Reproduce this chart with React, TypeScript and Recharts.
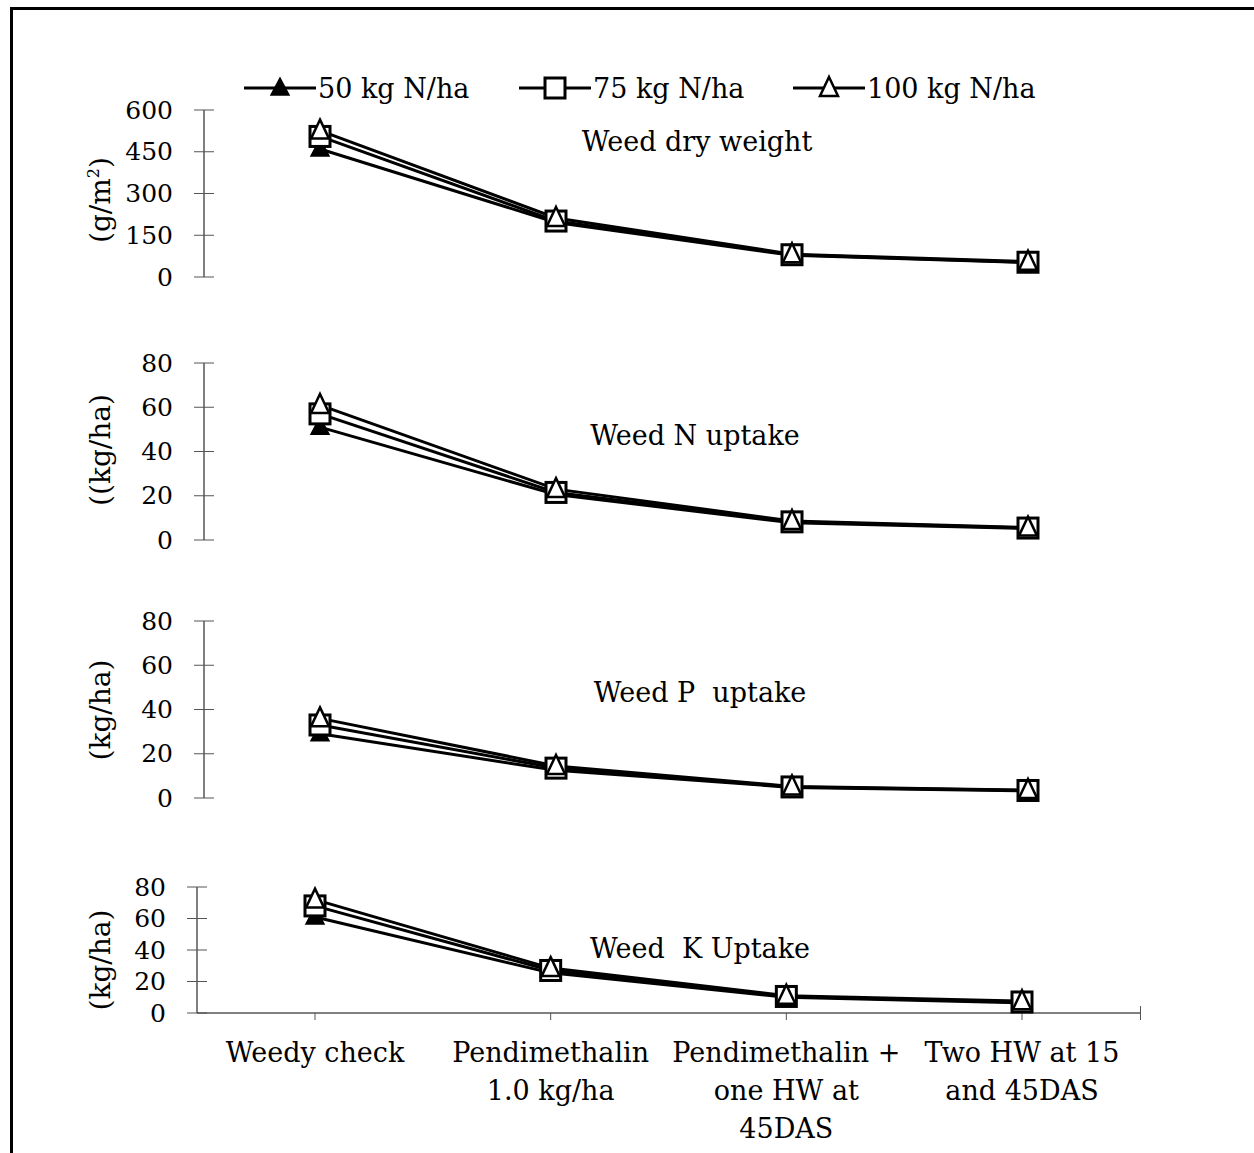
import React from 'react';
import { LineChart, Line, XAxis, YAxis } from 'recharts';

const treatments = [
  'Weedy check',
  'Pendimethalin\n1.0 kg/ha',
  'Pendimethalin +\none HW at\n45DAS',
  'Two HW at 15\nand 45DAS',
];

const dryWeight50 = [460, 196, 78, 52];
const dryWeight75 = [505, 201, 80, 53];
const dryWeight100 = [526, 212, 82, 55];

const nUptake50 = [51, 20.5, 7.8, 5.2];
const nUptake75 = [57, 21.5, 8.2, 5.4];
const nUptake100 = [61, 23, 8.6, 5.6];

const pUptake50 = [29, 12.5, 4.8, 3.2];
const pUptake75 = [33, 13.5, 5, 3.4];
const pUptake100 = [36, 14.5, 5.2, 3.6];

const kUptake50 = [61, 25.5, 10, 6.5];
const kUptake75 = [68, 27, 10.5, 7];
const kUptake100 = [72, 28.5, 11, 7.5];

const dryWeightTicks = [0, 150, 300, 450, 600];
const uptakeTicks = [0, 20, 40, 60, 80];

const FONT = '"DejaVu Serif", serif';
const FS = 25;
const M = 24;
const YW = 60;
const W = 1254;

function rows(a: number[], b: number[], c: number[]) {
  return treatments.map((name, i) => ({ name, n50: a[i], n75: b[i], n100: c[i] }));
}

const FilledTriangle = (props: any) => {
  const { cx, cy } = props;
  if (cx == null || cy == null) return null;
  return <path d={`M${cx},${cy - 10} L${cx + 9},${cy + 7} L${cx - 9},${cy + 7} Z`} fill="#000" stroke="#000" strokeWidth={1.5} />;
};

const OpenSquare = (props: any) => {
  const { cx, cy } = props;
  if (cx == null || cy == null) return null;
  return <rect x={cx - 10} y={cy - 10} width={20} height={20} fill="#fff" stroke="#000" strokeWidth={3} />;
};

const OpenTriangle = (props: any) => {
  const { cx, cy } = props;
  if (cx == null || cy == null) return null;
  return <path d={`M${cx},${cy - 11} L${cx + 9},${cy + 8} L${cx - 9},${cy + 8} Z`} fill="#fff" stroke="#000" strokeWidth={2.5} />;
};

const YTick = (props: any) => {
  const { x, y, payload } = props;
  return (
    <g>
      <line x1={x - 10} x2={x + 10} y1={y} y2={y} stroke="#555" strokeWidth={1} />
      <text x={x - 31} y={y} textAnchor="end" dominantBaseline="central" fontFamily={FONT} fontSize={FS} fill="#000">
        {payload.value}
      </text>
    </g>
  );
};

const XTick = (props: any) => {
  const { x, y, payload } = props;
  const lines = String(payload.value).split('\n');
  return (
    <g>
      {lines.map((l, i) => (
        <text key={i} x={x} y={y + 32 + i * 38} textAnchor="middle" dominantBaseline="central" fontFamily={FONT} fontSize={27} fill="#000">
          {l}
        </text>
      ))}
    </g>
  );
};

type Panel = {
  data: { name: string; n50: number; n75: number; n100: number }[];
  top: number;
  bottom: number;
  left: number;
  right: number;
  pad: number;
  max: number;
  ticks: number[];
  showX?: boolean;
};

const XH = 130;

function PanelChart({ p }: { p: Panel }) {
  const plotH = p.bottom - p.top;
  const height = plotH + M + M + (p.showX ? XH : 0);
  return (
    <div style={{ position: 'absolute', left: 0, top: p.top - M }}>
      <LineChart
        width={W}
        height={height}
        data={p.data}
        margin={{ top: M, bottom: M, left: p.left - YW, right: W - p.right }}
        style={{ overflow: 'visible' }}
      >
        <XAxis
          dataKey="name"
          hide={!p.showX}
          height={XH}
          interval={0}
          padding={{ left: p.pad, right: p.pad }}
          axisLine={{ stroke: '#000', strokeWidth: 1 }}
          tickLine={{ stroke: '#555' }}
          tickSize={7}
          tickMargin={0}
          tick={<XTick />}
        />
        <YAxis
          type="number"
          domain={[0, p.max]}
          ticks={p.ticks}
          width={YW}
          axisLine={{ stroke: '#000', strokeWidth: 1 }}
          tickLine={false}
          tickSize={0}
          tickMargin={0}
          tick={<YTick />}
          interval={0}
        />
        <Line dataKey="n50" stroke="#000" strokeWidth={3} dot={<FilledTriangle />} isAnimationActive={false} />
        <Line dataKey="n75" stroke="#000" strokeWidth={3} dot={<OpenSquare />} isAnimationActive={false} />
        <Line dataKey="n100" stroke="#000" strokeWidth={3} dot={<OpenTriangle />} isAnimationActive={false} />
      </LineChart>
    </div>
  );
}

const panels: Panel[] = [
  { data: rows(dryWeight50, dryWeight75, dryWeight100), top: 110, bottom: 277, left: 204, right: 1144, pad: 116, max: 600, ticks: dryWeightTicks },
  { data: rows(nUptake50, nUptake75, nUptake100), top: 363, bottom: 540, left: 204, right: 1144, pad: 116, max: 80, ticks: uptakeTicks },
  { data: rows(pUptake50, pUptake75, pUptake100), top: 621, bottom: 798, left: 204, right: 1144, pad: 116, max: 80, ticks: uptakeTicks },
  { data: rows(kUptake50, kUptake75, kUptake100), top: 887, bottom: 1013, left: 197, right: 1140, pad: 118, max: 80, ticks: uptakeTicks, showX: true },
];

const titles = [
  { text: 'Weed dry weight', x: 697, y: 141 },
  { text: 'Weed N uptake', x: 695, y: 435 },
  { text: 'Weed P\u00a0 uptake', x: 700, y: 692 },
  { text: 'Weed\u00a0 K Uptake', x: 700, y: 948 },
];

const yLabels: { text: React.ReactNode; y: number }[] = [
  { text: <>(g/m<sup style={{ fontSize: 16 }}>2</sup>)</>, y: 200 },
  { text: '((kg/ha)', y: 450 },
  { text: '(kg/ha)', y: 710 },
  { text: '(kg/ha)', y: 960 },
];

const legendItems = [
  { label: '50 kg N/ha', x: 244, marker: FilledTriangle },
  { label: '75 kg N/ha', x: 519, marker: OpenSquare },
  { label: '100 kg N/ha', x: 793, marker: OpenTriangle },
];

function LegendRow() {
  return (
    <svg width={W} height={40} style={{ position: 'absolute', left: 0, top: 68 }}>
      {legendItems.map((it) => {
        const Marker = it.marker;
        return (
          <g key={it.label}>
            <line x1={it.x} x2={it.x + 72} y1={20} y2={20} stroke="#000" strokeWidth={3} />
            <Marker cx={it.x + 36} cy={20} />
            <text x={it.x + 74} y={20} dominantBaseline="central" fontFamily={FONT} fontSize={27} fill="#000">
              {it.label}
            </text>
          </g>
        );
      })}
    </svg>
  );
}

export default function App() {
  return (
    <div style={{ position: 'absolute', left: 0, top: 0, width: W, height: 1153, background: '#fff', overflow: 'hidden', fontFamily: FONT }}>
      <div style={{ position: 'absolute', left: 10, top: 7, right: 0, bottom: 0, borderTop: '3px solid #000', borderLeft: '3px solid #000' }} />
      <LegendRow />
      {panels.map((p, i) => (
        <PanelChart key={i} p={p} />
      ))}
      <div style={{ position: 'absolute', left: 1140, top: 1006, width: 1, height: 14, background: '#555' }} />
      {titles.map((t) => (
        <div
          key={t.text}
          style={{ position: 'absolute', left: t.x, top: t.y, transform: 'translate(-50%, -50%)', fontSize: 27, whiteSpace: 'pre', color: '#000' }}
        >
          {t.text}
        </div>
      ))}
      {yLabels.map((l, i) => (
        <div
          key={i}
          style={{ position: 'absolute', left: 100, top: l.y, transform: 'translate(-50%, -50%) rotate(-90deg)', fontSize: 28, whiteSpace: 'nowrap', color: '#000' }}
        >
          {l.text}
        </div>
      ))}
    </div>
  );
}
